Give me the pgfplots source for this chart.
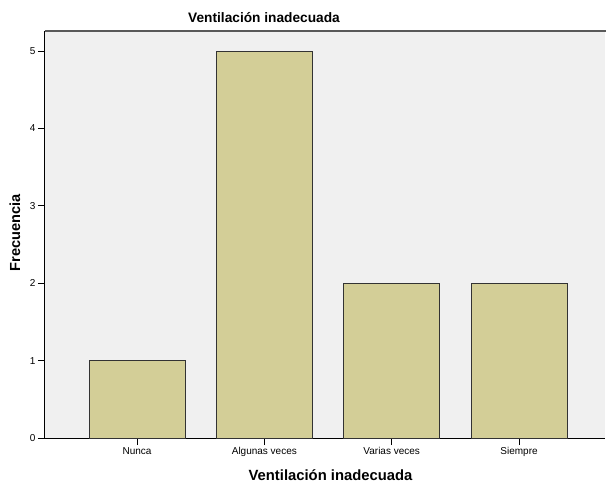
\documentclass[border=0pt]{standalone}
\usepackage{pgfplots}
\pgfplotsset{compat=1.18}
\usepackage{fontspec}
\setmainfont{Liberation Sans}
\definecolor{bg}{RGB}{240,240,240}
\definecolor{barc}{RGB}{211,206,151}
\begin{document}
\begin{tikzpicture}
\useasboundingbox (-45pt,-45pt) rectangle (561pt,438pt);
\begin{axis}[
  at={(0pt,0pt)}, anchor=south west,
  scale only axis, width=560pt, height=407pt,
  xmin=-0.7225, xmax=3.675, ymin=0, ymax=5.26,
  axis x line*=bottom, axis y line*=left,
  axis line style={black, line width=1pt},
  axis background/.style={fill=bg},
  xtick=data,
  xticklabels={Nunca,Algunas veces,Varias veces,Siempre},
  ytick={0,1,2,3,4,5},
  yticklabels={0,1,2,3,4,5},
  tick align=outside,
  major tick length=7pt,
  tick style={black, line width=0.8pt},
  ticklabel style={font=\fontsize{10}{12}\selectfont, text=black},
  xticklabel style={yshift=1pt},
  yticklabel style={xshift=1pt},
  ybar, bar width=96pt,
]
\addplot[fill=barc, draw=black!80, line width=0.9pt] coordinates {(0,1) (1,5) (2,2) (3,2)};
\end{axis}
\draw[black!65, line width=1.5pt] (0pt,407pt) -- (561pt,407pt);
\node[anchor=base, font=\bfseries\fontsize{13.7}{16}\selectfont] at (219pt,415pt) {Ventilación inadecuada};
\node[anchor=base, font=\bfseries\fontsize{14.8}{17}\selectfont] at (285.5pt,-42pt) {Ventilación inadecuada};
\node[rotate=90, font=\bfseries\fontsize{14.6}{17}\selectfont] at (-30pt,205pt) {Frecuencia};
\end{tikzpicture}
\end{document}
